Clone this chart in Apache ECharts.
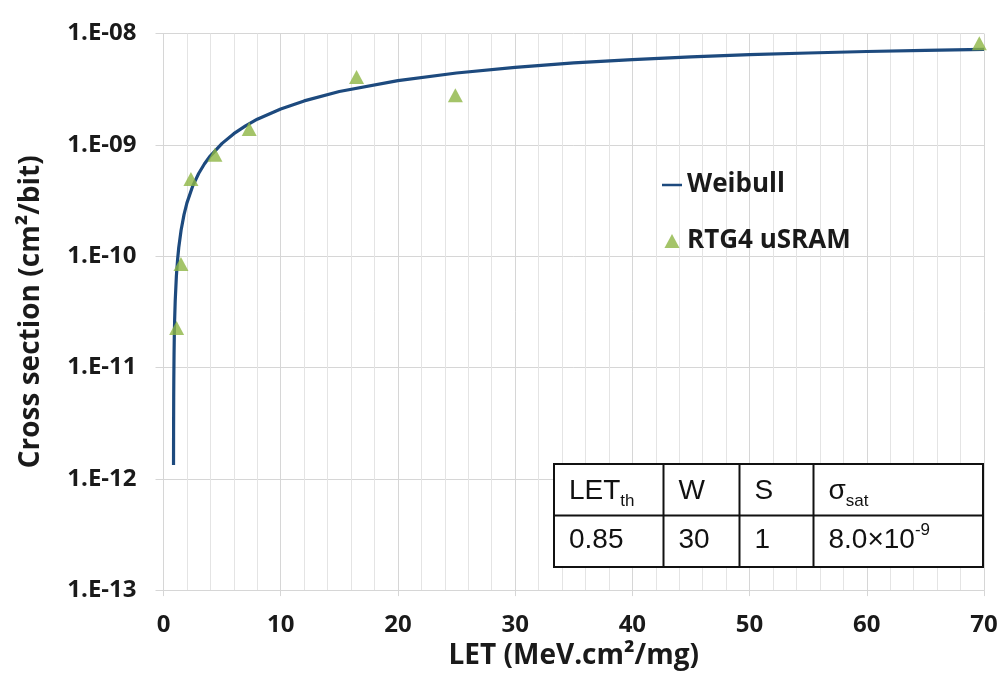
<!DOCTYPE html>
<html>
<head>
<meta charset="utf-8">
<title>Weibull fit - RTG4 uSRAM</title>
<script src="https://cdn.jsdelivr.net/npm/echarts@6/dist/echarts.min.js"></script>
<style>
  html, body { margin: 0; padding: 0; background: #fff; }
  #main { width: 1001px; height: 675px; }
</style>
</head>
<body>
<div id="main"></div>
<script>
// Weibull curve (LET, cross section)
const fitLet = [0.855, 0.86, 0.87, 0.88, 0.9, 0.92, 0.95, 1.0, 1.1, 1.2, 1.3, 1.5, 1.75, 2, 2.5, 3, 3.5, 4, 5, 6, 7, 8, 10, 12, 15, 20, 25, 30, 35, 40, 45, 50, 55, 60, 65, 70]
const fitSigma = [1.33e-12, 2.67e-12, 5.33e-12, 8.0e-12, 1.33e-11, 1.87e-11, 2.66e-11, 3.99e-11, 6.64e-11, 9.28e-11, 1.19e-10, 1.71e-10, 2.36e-10, 3.01e-10, 4.28e-10, 5.53e-10, 6.76e-10, 7.97e-10, 1.03e-9, 1.26e-9, 1.48e-9, 1.70e-9, 2.10e-9, 2.48e-9, 3.01e-9, 3.77e-9, 4.42e-9, 4.97e-9, 5.44e-9, 5.83e-9, 6.16e-9, 6.45e-9, 6.68e-9, 6.89e-9, 7.06e-9, 7.20e-9]

// measured points
const dataLet = [1.12, 1.49, 2.34, 4.39, 7.31, 16.47, 24.9, 69.6]
const dataSigma = [2.26e-11, 8.5e-11, 4.94e-10, 8.14e-10, 1.39e-9, 4.06e-9, 2.79e-9, 8.17e-9]

// weibull parameter table
const tableHead = ['LET', 'W', 'S', 'σ']
const tableHeadSub = ['th', '', '', 'sat']
const tableValues = ['0.85', '30', '1', '8.0×10']
const tableValueSup = ['', '', '', '-9']

const seriesNames = ['Weibull', 'RTG4 uSRAM']
const blue = '#1d4a7e'
const green = '#8db543'
const axisFont = '"Open Sans", Lato, sans-serif'
const tableFont = '"Liberation Sans", Arial, sans-serif'
const textColor = '#1a1a1a'

const zip = (xs, ys) => xs.map((x, i) => [x, ys[i]])

// table geometry
const tLeft = 554
const tTop = 464
const tRight = 983
const tBottom = 567
const tMid = 515.5
const colX = [554, 663.5, 739.5, 813.5]

const tableGraphic = [
  { type: 'rect', shape: { x: tLeft, y: tTop, width: tRight - tLeft, height: tBottom - tTop }, style: { fill: '#fff', stroke: '#111', lineWidth: 2 }, z: 100 },
  { type: 'line', shape: { x1: tLeft, y1: tMid, x2: tRight, y2: tMid }, style: { stroke: '#111', lineWidth: 2 }, z: 101 }
]
colX.slice(1).forEach(x => {
  tableGraphic.push({ type: 'line', shape: { x1: x, y1: tTop, x2: x, y2: tBottom }, style: { stroke: '#111', lineWidth: 2 }, z: 101 })
})
const measure = (txt, size) => {
  const c = document.createElement('canvas').getContext('2d')
  c.font = size + 'px ' + tableFont
  return c.measureText(txt).width
}
tableHead.forEach((t, i) => {
  const x = colX[i] + 15
  tableGraphic.push({ type: 'text', x: x, y: 491, z: 102, style: { text: t, font: '28px ' + tableFont, fill: '#111', verticalAlign: 'middle' } })
  if (tableHeadSub[i]) {
    tableGraphic.push({ type: 'text', x: x + measure(t, 28), y: 501, z: 102, style: { text: tableHeadSub[i], font: '17px ' + tableFont, fill: '#111', verticalAlign: 'middle' } })
  }
})
tableValues.forEach((t, i) => {
  const x = colX[i] + 15
  tableGraphic.push({ type: 'text', x: x, y: 540, z: 102, style: { text: t, font: '28px ' + tableFont, fill: '#111', verticalAlign: 'middle' } })
  if (tableValueSup[i]) {
    tableGraphic.push({ type: 'text', x: x + measure(t, 28), y: 530, z: 102, style: { text: tableValueSup[i], font: '17px ' + tableFont, fill: '#111', verticalAlign: 'middle' } })
  }
})

const chart = echarts.init(document.getElementById('main'))
chart.setOption({
  backgroundColor: '#fff',
  animation: false,
  textStyle: { fontFamily: axisFont },
  grid: { left: 163.5, right: 17, top: 33.5, bottom: 81.5 },
  legend: {
    orient: 'vertical',
    left: 657,
    top: 165,
    itemWidth: 20,
    itemHeight: 14,
    itemGap: 26,
    textStyle: { fontFamily: axisFont, fontWeight: 'bold', fontSize: 26, lineHeight: 30, color: textColor },
    data: [
      { name: seriesNames[0], icon: 'path://M0,0H24V3H0Z' },
      { name: seriesNames[1], icon: 'path://M7,0L14,13L0,13Z' }
    ]
  },
  xAxis: {
    type: 'value',
    min: 0,
    max: 70,
    interval: 10,
    name: 'LET (MeV.cm²/mg)',
    nameLocation: 'middle',
    nameGap: 42,
    nameTextStyle: { fontFamily: axisFont, fontWeight: 'bold', fontSize: 28, color: textColor },
    axisLine: { show: true, lineStyle: { color: '#d6d6d6' } },
    axisTick: { show: true, length: 6, lineStyle: { color: '#d6d6d6' } },
    axisLabel: { fontFamily: axisFont, fontWeight: 'bold', fontSize: 24, color: textColor, margin: 23 },
    splitLine: { show: true, lineStyle: { color: '#d6d6d6' } },
    minorTick: { show: false, splitNumber: 5 },
    minorSplitLine: { show: true, lineStyle: { color: '#e4e4e4' } }
  },
  yAxis: {
    type: 'log',
    logBase: 10,
    min: 1e-13,
    max: 1e-8,
    name: 'Cross section (cm²/bit)',
    nameLocation: 'middle',
    nameRotate: 90,
    nameGap: 118,
    nameTextStyle: { fontFamily: axisFont, fontWeight: 'bold', fontSize: 28, color: textColor },
    axisLine: { show: true, lineStyle: { color: '#d6d6d6' } },
    axisTick: { show: true, length: 8, lineStyle: { color: '#d6d6d6' } },
    axisLabel: {
      fontFamily: axisFont, fontWeight: 'bold', fontSize: 24, color: textColor, margin: 27,
      formatter: v => {
        const e = Math.round(Math.log10(v))
        return '1.E-' + String(-e).padStart(2, '0')
      }
    },
    splitLine: { show: true, lineStyle: { color: '#d6d6d6' } }
  },
  series: [
    {
      name: seriesNames[0],
      type: 'line',
      data: zip(fitLet, fitSigma),
      symbol: 'none',
      smooth: false,
      lineStyle: { color: blue, width: 3.2 },
      itemStyle: { color: blue },
      z: 3
    },
    {
      name: seriesNames[1],
      type: 'scatter',
      data: zip(dataLet, dataSigma),
      symbol: 'triangle',
      symbolSize: [15, 14],
      itemStyle: { color: green },
      z: 4
    }
  ],
  graphic: tableGraphic
})
</script>
</body>
</html>
